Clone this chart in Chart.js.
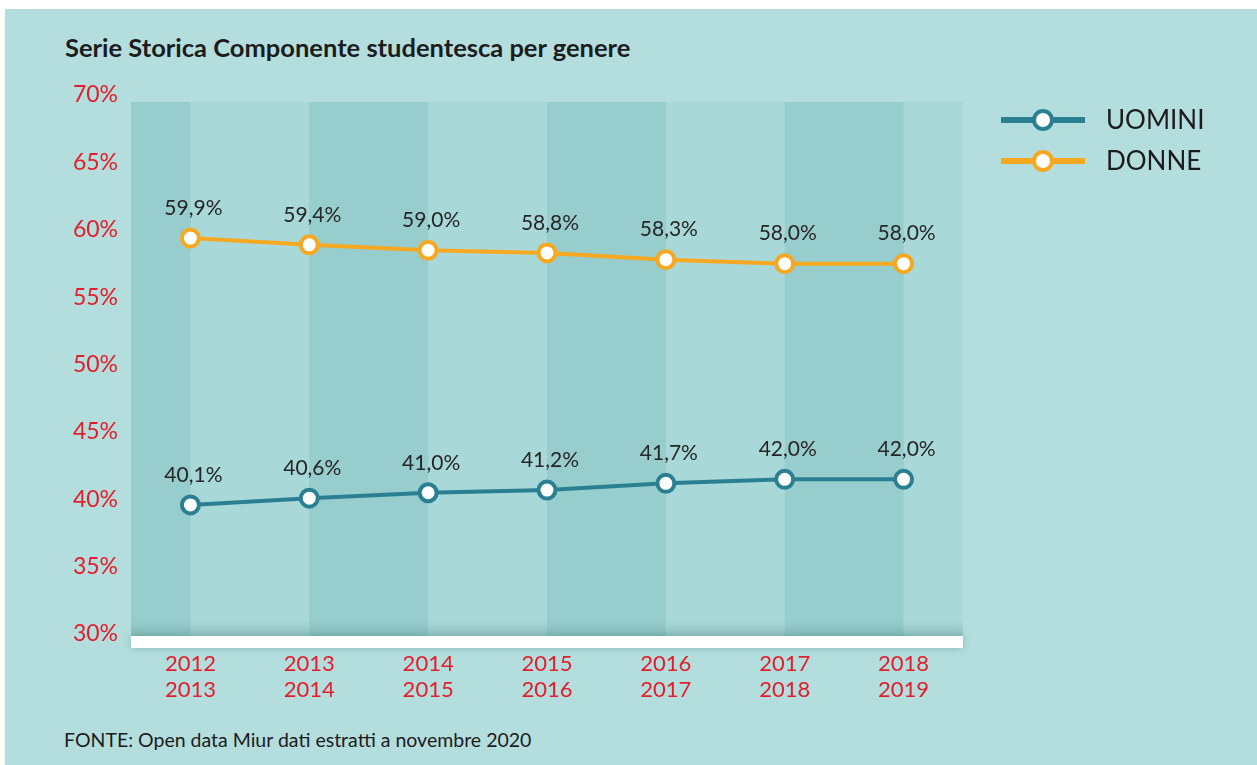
<!DOCTYPE html>
<html lang="it">
<head>
  <meta charset="UTF-8" />
  <title>Serie Storica Componente studentesca per genere</title>
  <script src="https://cdn.jsdelivr.net/npm/chart.js"></script>
  <style>
    html, body {
      margin: 0;
      padding: 0;
      background: #ffffff;
      width: 1257px;
      height: 765px;
      overflow: hidden;
      font-family: 'Lato', sans-serif;
    }
    #panel {
      position: absolute;
      left: 5px;
      top: 9px;
      width: 1252px;
      height: 756px;
      background: #b4dede;
    }
    #title {
      position: absolute;
      left: 65px;
      top: 33px;
      font-size: 25.5px;
      font-weight: bold;
      color: #1c1c1c;
      line-height: 28px;
      white-space: nowrap;
    }
    #source {
      position: absolute;
      left: 64px;
      top: 729px;
      font-size: 19.5px;
      color: #1c1c1c;
      line-height: 22px;
      white-space: nowrap;
    }
    #wrap {
      position: absolute;
      left: 0;
      top: 0;
      width: 1257px;
      height: 765px;
    }
  </style>
</head>
<body>
  <div id="panel"></div>
  <div id="title">Serie Storica Componente studentesca per genere</div>
  <div id="source">FONTE: Open data Miur dati estratti a novembre 2020</div>
  <div id="wrap"><canvas id="chart" width="1257" height="765"></canvas></div>
  <script>
    // dati
    const years = [
      ["2012", "2013"], ["2013", "2014"], ["2014", "2015"], ["2015", "2016"],
      ["2016", "2017"], ["2017", "2018"], ["2018", "2019"]
    ];
    const uomini = [40.1, 40.6, 41.0, 41.2, 41.7, 42.0, 42.0];
    const donne = [59.9, 59.4, 59.0, 58.8, 58.3, 58.0, 58.0];
    const seriesNames = ["UOMINI", "DONNE"];
    const yMin = 30, yMax = 70, yStep = 5;

    const TEAL = "#2a7f93";
    const ORANGE = "#f6a821";
    const RED = "#e31e2a";

    const fmt = v => v.toFixed(1).replace(".", ",") + "%";

    // fasce verticali alternate + barra bianca in basso
    const bandsPlugin = {
      id: "bands",
      beforeDatasetsDraw(chart) {
        const { ctx, chartArea: a, scales: { x } } = chart;
        const bandBottom = a.bottom - 5;
        ctx.save();
        ctx.fillStyle = "#a8d8d8";
        ctx.fillRect(a.left, a.top, a.right - a.left, bandBottom - a.top);
        ctx.fillStyle = "#98cdcd";
        const edges = [a.left];
        years.forEach((_, i) => edges.push(x.getPixelForValue(i)));
        edges.push(a.right);
        for (let i = 0; i < edges.length - 1; i += 2) {
          ctx.fillRect(edges[i], a.top, edges[i + 1] - edges[i], bandBottom - a.top);
        }
        const g = ctx.createLinearGradient(0, bandBottom - 16, 0, bandBottom);
        g.addColorStop(0, "rgba(60,120,120,0)");
        g.addColorStop(1, "rgba(60,120,120,0.2)");
        ctx.fillStyle = g;
        ctx.fillRect(a.left, bandBottom - 16, a.right - a.left, 16);
        ctx.shadowColor = "rgba(40,90,90,0.3)";
        ctx.shadowBlur = 8;
        ctx.fillStyle = "#ffffff";
        ctx.fillRect(a.left, bandBottom, a.right - a.left, 12);
        ctx.restore();
      },
      afterDatasetsDraw(chart) {
        const { ctx } = chart;
        ctx.save();
        ctx.font = "21px Lato, sans-serif";
        ctx.fillStyle = "#262626";
        ctx.textAlign = "center";
        ctx.textBaseline = "middle";
        chart.data.datasets.forEach((ds, di) => {
          chart.getDatasetMeta(di).data.forEach((pt, i) => {
            ctx.fillText(fmt(ds.data[i]), pt.x + 3, pt.y - 30);
          });
        });
        ctx.restore();
      },
      afterDraw(chart) {
        const { ctx, chartArea: a } = chart;
        ctx.save();
        chart.data.datasets.forEach((ds, i) => {
          const y = 120 + i * 41;
          const x0 = a.right + 38;
          ctx.strokeStyle = ds.borderColor;
          ctx.lineWidth = 6;
          ctx.beginPath();
          ctx.moveTo(x0, y);
          ctx.lineTo(x0 + 84, y);
          ctx.stroke();
          ctx.beginPath();
          ctx.arc(x0 + 42, y, 9, 0, Math.PI * 2);
          ctx.fillStyle = "#ffffff";
          ctx.fill();
          ctx.lineWidth = 4;
          ctx.stroke();
          ctx.fillStyle = "#1c1c1c";
          ctx.font = "26px Lato, sans-serif";
          ctx.textBaseline = "middle";
          ctx.fillText(ds.label, x0 + 105, y + 1);
        });
        ctx.restore();
      }
    };

    const pointStyle = color => ({
      borderColor: color,
      backgroundColor: color,
      borderWidth: 4,
      pointRadius: 8.5,
      pointHoverRadius: 8.5,
      pointBackgroundColor: "#ffffff",
      pointBorderColor: color,
      pointBorderWidth: 4,
      tension: 0,
      fill: false
    });

    new Chart(document.getElementById("chart"), {
      type: "line",
      data: {
        labels: years,
        datasets: [
          Object.assign({ label: seriesNames[0], data: uomini }, pointStyle(TEAL)),
          Object.assign({ label: seriesNames[1], data: donne }, pointStyle(ORANGE))
        ]
      },
      options: {
        responsive: false,
        animation: false,
        layout: { padding: { top: 102, right: 294, left: 0, bottom: 0 } },
        plugins: {
          legend: { display: false },
          tooltip: { enabled: false }
        },
        scales: {
          x: {
            offset: true,
            grid: { display: false, drawTicks: false },
            border: { display: false },
            ticks: {
              color: RED,
              font: { family: "Lato", size: 22, lineHeight: 1.22 },
              padding: 9,
              maxRotation: 0
            },
            afterFit: s => { s.height = 124; }
          },
          y: {
            min: yMin,
            max: yMax,
            grid: { display: false, drawTicks: false },
            border: { display: false },
            ticks: {
              stepSize: yStep,
              color: RED,
              font: { family: "Lato", size: 23 },
              padding: 13,
              labelOffset: -7,
              callback: v => v + "%"
            },
            afterFit: s => { s.width = 131; }
          }
        }
      },
      plugins: [bandsPlugin]
    });
  </script>
</body>
</html>
